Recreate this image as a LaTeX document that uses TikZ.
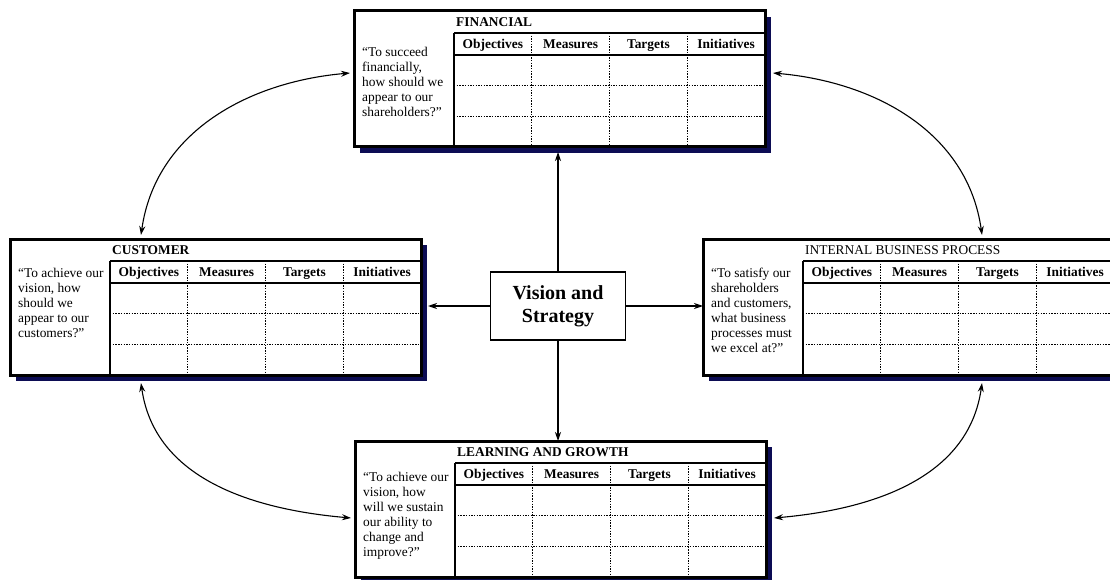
\documentclass[tikz,border=0pt]{standalone}
\usepackage{fontspec}
\setmainfont{Liberation Serif}
\usepackage{tikz}
\usetikzlibrary{arrows.meta}
\definecolor{shadowNavy}{RGB}{12,12,84}

\begin{document}
\begin{tikzpicture}[x=1pt,y=1pt,font=\fontsize{13.4}{15}\selectfont]
 \newcommand{\boxW}{411}
 \newcommand{\boxH}{136}
 \newcommand{\colW}{77.75}
	\tikzset{frame/.style = {draw,line width=3pt,fill=white,minimum width=\boxW pt,minimum height=\boxH pt,inner sep=0pt,outer sep=0pt,anchor=north west}}
	\tikzset{colHead/.style = {inner sep=0pt,anchor=base,font=\fontsize{13.4}{15}\selectfont\bfseries}}
	\tikzset{visionBox/.style = {draw,line width=1.8pt,fill=white,minimum width=135pt,minimum height=68pt,align=center,font=\fontsize{20}{23}\selectfont\bfseries}}
	\tikzstyle{solidLine} = [line width=2.2pt]
	\tikzstyle{dotLine} = [line width=1.4pt,dash pattern=on 1.4pt off 1.3pt]
	\tikzstyle{edge} = [<->,>={Stealth[length=9pt,width=6pt]},line width=1.1pt]
	\tikzstyle{spoke} = [->,>={Stealth[length=9pt,width=6pt]},line width=1.1pt]
 % #1 name, #2 top left corner, #3 title, #4 question, #5 height of question
 \newcommand{\scorecard}[5]{%
	\fill[shadowNavy] (#2) ++(6,-6) rectangle ++(\boxW,-\boxH);
	\node[frame] (#1) at (#2) {};
	\begin{scope}[shift={(#1.north west)}]
	\foreach \k in {1,2,3}
		\draw[dotLine] ({100+\k*\colW},-22) -- ({100+\k*\colW},-\boxH);
	\foreach \r in {74.7,105.3}
		\draw[dotLine] (100,-\r) -- (\boxW,-\r);
	\draw[solidLine] (100,-22) -- (\boxW,-22);
	\draw[solidLine] (100,-44) -- (\boxW,-44);
	\draw[solidLine] (100,-22) -- (100,-\boxH);
	\foreach \col [count=\i] in {Objectives,Measures,Targets,Initiatives}
		\node[colHead] (#1-h\i) at ({100+(\i-0.5)*\colW},-37.5) {\col};
	\node[anchor=west,inner sep=0pt] (#1-title) at (102,-11) {#3};
	\node[anchor=west,align=left,inner sep=0pt] (#1-q) at (8,#5) {#4};
	\end{scope}
 }
	\useasboundingbox (0,0) rectangle (1110,-580);
	%perspectives
	\scorecard{fin}{354,-11}{\textbf{FINANCIAL}}{“To succeed\\financially,\\how should we\\appear to our\\shareholders?”}{-71}
	\scorecard{cust}{10,-239}{\textbf{CUSTOMER}}{“To achieve our\\vision, how\\should we\\appear to our\\customers?”}{-64}
	\scorecard{proc}{703,-239}{INTERNAL BUSINESS PROCESS}{“To satisfy our\\shareholders\\and customers,\\what business\\processes must\\we excel at?”}{-71}
	\scorecard{learn}{355,-441}{\textbf{LEARNING AND GROWTH}}{“To achieve our\\vision, how\\will we sustain\\our ability to\\change and\\improve?”}{-75}
	%centre
	\node[visionBox] (vision) at (558,-306) {Vision and\\Strategy};
	\draw[spoke,shorten >=5pt] (vision.north) -- (vision.north |- fin.south);
	\draw[spoke] (vision.south) -- (vision.south |- learn.north);
	\draw[spoke,shorten >=7pt] (vision.west) -- (vision.west -| cust.east);
	\draw[spoke] (vision.east) -- (vision.east -| proc.west);
	%links between perspectives
	\draw[edge] ([xshift=131pt,yshift=4pt]cust.north west) to[out=82,in=185] ([xshift=-4pt,yshift=6pt]fin.west);
	\draw[edge] ([xshift=279pt,yshift=4pt]proc.north west) to[out=98,in=-5] ([xshift=8pt,yshift=6pt]fin.east);
	\draw[edge] ([xshift=131pt,yshift=-8pt]cust.south west) to[out=-82,in=175] ([xshift=-4pt,yshift=-9pt]learn.west);
	\draw[edge] ([xshift=279pt,yshift=-8pt]proc.south west) to[out=-98,in=5] ([xshift=8pt,yshift=-9pt]learn.east);
\end{tikzpicture}
\end{document}
